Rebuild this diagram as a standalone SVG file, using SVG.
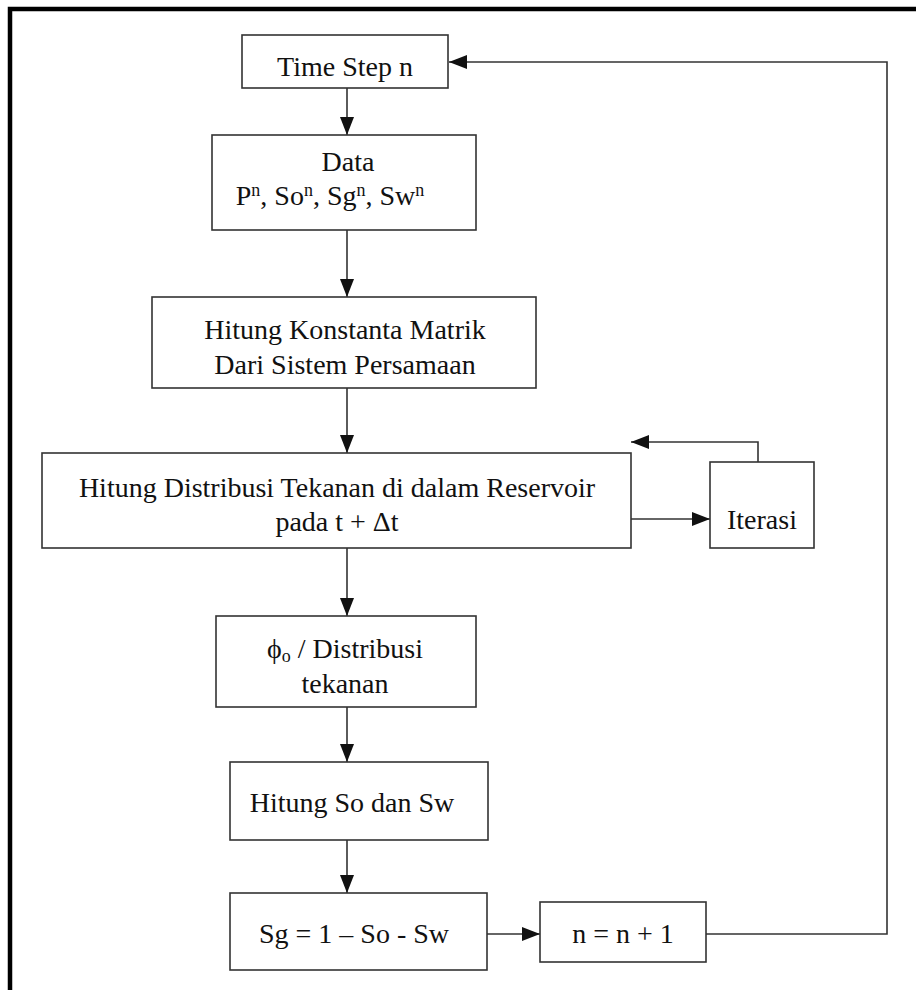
<svg xmlns="http://www.w3.org/2000/svg" width="916" height="990" viewBox="0 0 916 990">
<style>
.box{fill:#fff;stroke:#333;stroke-width:1.6}
.t{font-family:"Liberation Serif","Times New Roman",serif;font-size:28px;fill:#111;text-anchor:middle}
.c{fill:none;stroke:#333;stroke-width:1.6}
.sup{font-size:18px}
</style>
<defs>
<marker id="ah" markerWidth="18" markerHeight="14" refX="18" refY="7" orient="auto" markerUnits="userSpaceOnUse">
<path d="M0,0 L18,7 L0,14 Z" fill="#111"/>
</marker>
</defs>
<rect x="0" y="0" width="916" height="990" fill="#fff"/>
<path d="M10,1000 V9 H930" fill="none" stroke="#000" stroke-width="4.5"/>
<g id="connectors">
<line class="c" x1="347" y1="88" x2="347" y2="135" marker-end="url(#ah)"/>
<line class="c" x1="347" y1="230" x2="347" y2="297" marker-end="url(#ah)"/>
<line class="c" x1="347" y1="388" x2="347" y2="453" marker-end="url(#ah)"/>
<path class="c" d="M758,462 V442 H631" marker-end="url(#ah)"/>
<line class="c" x1="631" y1="519" x2="710" y2="519" marker-end="url(#ah)"/>
<line class="c" x1="347" y1="548" x2="347" y2="616" marker-end="url(#ah)"/>
<line class="c" x1="347" y1="707" x2="347" y2="762" marker-end="url(#ah)"/>
<line class="c" x1="347" y1="840" x2="347" y2="893" marker-end="url(#ah)"/>
<line class="c" x1="487" y1="934" x2="540" y2="934" marker-end="url(#ah)"/>
<path class="c" d="M706,934 H887 V62 H449" marker-end="url(#ah)"/>
</g>
<g id="timestep">
<rect class="box" x="242" y="35" width="206" height="53"/>
<text class="t" x="345" y="76">Time Step n</text>
</g>
<g id="data">
<rect class="box" x="212" y="135" width="264" height="95"/>
<text class="t" x="348" y="171">Data</text>
<text class="t" x="330" y="205">P<tspan class="sup" dy="-9">n</tspan><tspan dy="9">, So</tspan><tspan class="sup" dy="-9">n</tspan><tspan dy="9">, Sg</tspan><tspan class="sup" dy="-9">n</tspan><tspan dy="9">, Sw</tspan><tspan class="sup" dy="-9">n</tspan></text>
</g>
<g id="konstanta">
<rect class="box" x="152" y="297" width="384" height="91"/>
<text class="t" x="345" y="339">Hitung Konstanta Matrik</text>
<text class="t" x="345" y="374">Dari Sistem Persamaan</text>
</g>
<g id="distribusi">
<rect class="box" x="42" y="453" width="589" height="95"/>
<text class="t" x="337" y="497">Hitung Distribusi Tekanan di dalam Reservoir</text>
<text class="t" x="337" y="531">pada t + Δt</text>
</g>
<g id="iterasi">
<rect class="box" x="710" y="462" width="104" height="86"/>
<text class="t" x="762" y="529">Iterasi</text>
</g>
<g id="phi">
<rect class="box" x="216" y="616" width="260" height="91"/>
<text class="t" x="345" y="658">ϕ<tspan class="sup" dy="4">o</tspan><tspan dy="-4"> / Distribusi</tspan></text>
<text class="t" x="345" y="693">tekanan</text>
</g>
<g id="hitungso">
<rect class="box" x="230" y="762" width="258" height="78"/>
<text class="t" x="352" y="812">Hitung So dan Sw</text>
</g>
<g id="sg">
<rect class="box" x="230" y="893" width="257" height="77"/>
<text class="t" x="354" y="943">Sg = 1 – So - Sw</text>
</g>
<g id="nplus">
<rect class="box" x="540" y="902" width="166" height="60"/>
<text class="t" x="623" y="943">n = n + 1</text>
</g>
</svg>
